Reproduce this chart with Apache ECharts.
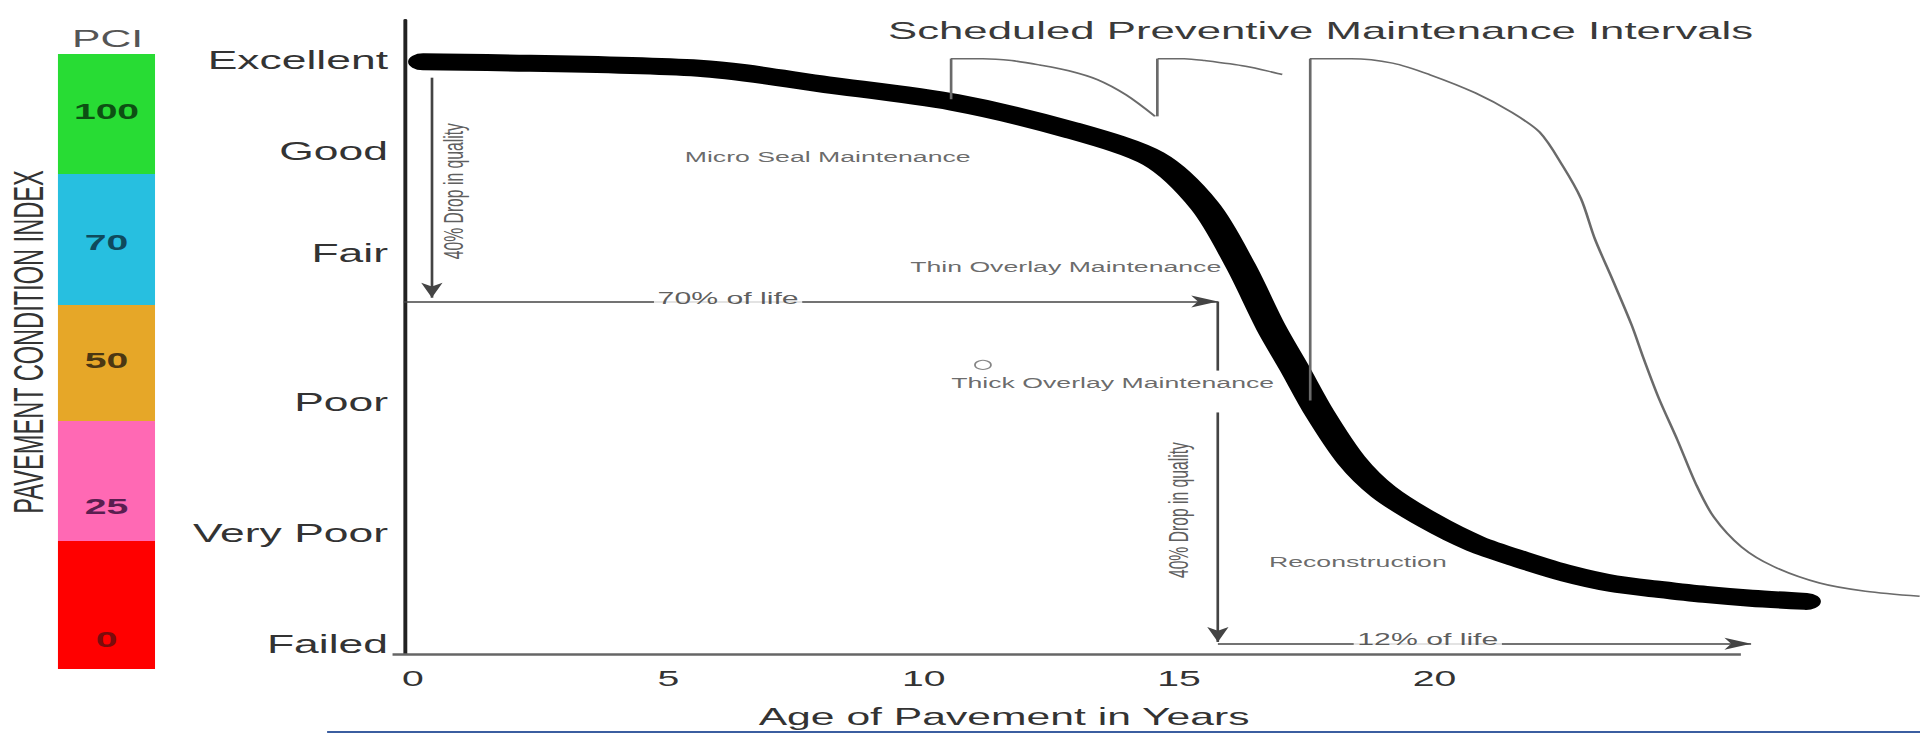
<!DOCTYPE html>
<html>
<head>
<meta charset="utf-8">
<script src="https://cdn.jsdelivr.net/npm/echarts@6/dist/echarts.min.js"></script>
<style>
  html, body { margin: 0; padding: 0; background: #fff; overflow: hidden; }
  /* the reference picture is a horizontally stretched figure: draw at 1080 wide, stretch to 1920 */
  #chart { width: 1080px; height: 734px; transform: scaleX(1.777778); transform-origin: 0 0; }
</style>
</head>
<body>
<div id="chart"></div>
<script>
// ---------- data ----------
const yLabelNames  = ['Excellent', 'Good', 'Fair', 'Poor', 'Very Poor', 'Failed'];
const yLabelValues = [93.6, 79.3, 63.2, 39.7, 19.1, 1.6];
const xTickValues  = [0, 5, 10, 15, 20];
const xAxisLineEnd = 26;

// pavement condition curve (age in years, condition)
const conditionCurve = [
  [0.2, 93.4], [5.6, 92.4], [8.1, 89.8], [10.6, 87.0], [12.9, 82.6], [14.5, 78.1],
  [15.5, 70.7], [16.2, 61.3], [16.8, 51.5], [17.25, 45.2], [17.75, 38.0], [18.37, 30.6],
  [19.0, 25.6], [19.9, 21.0], [20.8, 17.4], [21.7, 14.9], [22.6, 12.7], [23.5, 11.1],
  [24.4, 10.2], [25.3, 9.4], [26.2, 8.8], [27.27, 8.3]
];

// scheduled preventive maintenance intervals: rises (age, from, to) and decay curves
const pmRises = [[10.53, 87.5, 93.9], [14.56, 84.8, 93.9], [17.56, 40.0, 93.9]];
const pmDecay1 = [
  [10.53, 93.9], [11.16, 93.9], [11.72, 93.6], [12.27, 92.9], [12.84, 92.0],
  [13.40, 90.6], [13.96, 88.2], [14.53, 84.8]
];
const pmDecay2 = [[14.58, 93.9], [15.1, 93.9], [15.5, 93.6], [16.3, 92.7], [17.02, 91.4]];
const pmDecay3 = [
  [17.56, 93.9], [18.37, 93.9], [19.18, 93.2], [19.9, 91.4], [20.8, 88.5],
  [21.52, 85.4], [22.06, 82.3], [22.51, 77.0], [22.87, 71.8], [23.14, 65.5], [23.5, 58.8],
  [23.86, 51.9], [24.1, 46.5], [24.39, 40.4], [24.76, 33.7], [25.12, 26.8], [25.47, 21.6],
  [26.01, 16.9], [26.64, 13.8], [27.54, 11.2], [28.44, 9.9], [29.5, 9.1]
];

// annotation arrows (age, condition)
const arrowStarts = [[0.37, 90.9], [-0.18, 55.6], [15.76, 55.6], [15.76, 38.1], [15.76, 1.6]];
const arrowEnds   = [[0.37, 56.2], [15.76, 55.6], [15.76, 44.7], [15.76, 1.9], [26.2, 1.6]];
const arrowHeads  = [true, true, false, true, true];

// annotation texts
const noteTexts  = ['Micro Seal Maintenance', 'Thin Overlay Maintenance', 'Thick Overlay Maintenance',
                    'Reconstruction', '70% of life', '12% of life', '40% Drop in quality', '40% Drop in quality'];
const notePoints = [[8.12, 78.5], [12.78, 61.1], [13.7, 42.8], [18.5, 14.6], [6.17, 56.1], [19.87, 2.3],
                    [0.80, 73.0], [15.0, 22.7]];
const noteRotate = [0, 0, 0, 0, 0, 0, 90, 90];
const markerPoint = [[11.16, 45.6]];

// PCI colour scale (bottom to top)
const pciLabels      = ['0', '25', '50', '70', '100'];
const pciBandHeights = [128, 120, 116, 131, 120];
const pciColors      = ['#ff0000', '#ff69b4', '#e6a728', '#27bfe0', '#28dc34'];
const pciTextColors  = ['#7a0c0c', '#5a1e50', '#4a3713', '#0f4a5c', '#0d5013'];
const pciLabelShift  = [34, 25, -3, 3, -3];

// ---------- chart ----------
const FONT = 'Liberation Sans, Arial, Helvetica, sans-serif';
const chart = echarts.init(document.getElementById('chart'), null, { renderer: 'svg' });

const pciSeries = pciLabels.map((lab, i) => ({
  type: 'bar', xAxisIndex: 1, yAxisIndex: 1, stack: 'pci', barWidth: '100%',
  data: [pciBandHeights[i]],
  itemStyle: { color: pciColors[i] },
  label: { show: true, position: 'inside', formatter: lab, offset: [0, pciLabelShift[i]],
           fontFamily: FONT, fontSize: 22, fontWeight: 'bold', color: pciTextColors[i] },
  silent: true
}));

const thinLine = { color: '#6a6a6a', width: 1.5, type: 'solid' };
const decaySeries = [pmDecay1, pmDecay2, pmDecay3].map((d, i) => ({
  name: 'Preventive maintenance ' + (i + 1), type: 'line', data: d, clip: false, symbol: 'none',
  smooth: 0.3, lineStyle: thinLine, silent: true, z: 2
}));

const option = {
  animation: false,
  backgroundColor: '#fff',
  textStyle: { fontFamily: FONT },
  title: [
    { text: 'Scheduled Preventive Maintenance Intervals', left: 499.5, top: 18, padding: 0,
      textStyle: { fontFamily: FONT, fontSize: 24.6, fontWeight: 'normal', color: '#3a3a3a' } },
    { text: 'PCI', left: 40.5, top: 27, padding: 0,
      textStyle: { fontFamily: FONT, fontSize: 24, fontWeight: 'normal', color: '#555' } }
  ],
  graphic: [
    { type: 'text', x: 15.9, y: 342, rotation: Math.PI / 2, silent: true,
      style: { text: 'PAVEMENT CONDITION INDEX', fontFamily: FONT, fontSize: 23.6, fill: '#333',
               align: 'center', verticalAlign: 'middle', textAlign: 'center', textVerticalAlign: 'middle' } },
    { type: 'rect', silent: true, shape: { x: 184, y: 731, width: 900, height: 2 },
      style: { fill: '#3b5ea0' } }
  ],
  grid: [
    { left: 220.8, right: 0.2, top: 20, bottom: 76 },
    { left: 32.6, width: 54.6, top: 54, height: 615 }
  ],
  xAxis: [
    { type: 'value', min: -0.4, max: 29.5,
      axisLine: { show: false },
      axisTick: { show: false }, splitLine: { show: false },
      axisLabel: { customValues: xTickValues, fontFamily: FONT, fontSize: 22, color: '#333', margin: 13 },
      name: 'Age of Pavement in Years', nameLocation: 'middle', nameGap: 51,
      nameTextStyle: { fontFamily: FONT, fontSize: 24, color: '#333', padding: [0, 171, 0, 0] } },
    { type: 'category', gridIndex: 1, data: ['PCI'], show: false }
  ],
  yAxis: [
    { type: 'value', min: 0, max: 100, position: 'left', offset: -6.45,
      axisLine: { show: true, onZero: false, lineStyle: { color: '#222', width: 2.2 } },
      axisTick: { show: false }, splitLine: { show: false },
      axisLabel: { customValues: yLabelValues, margin: 9, fontFamily: FONT, fontSize: 25, color: '#333',
        formatter: function (v) {
          let best = 0;
          yLabelValues.forEach((y, i) => { if (Math.abs(y - v) < Math.abs(yLabelValues[best] - v)) best = i; });
          return yLabelNames[best];
        } } },
    { type: 'value', gridIndex: 1, min: 0, max: pciBandHeights.reduce((a, b) => a + b, 0), show: false }
  ],
  series: [
    { name: 'Age axis', type: 'line', data: [], silent: true, z: 1,
      markLine: { silent: true, symbol: 'none', animation: false, label: { show: false },
        lineStyle: { color: '#666', width: 2.5, type: 'solid' },
        data: [[{ coord: [-0.4, 0] }, { coord: [xAxisLineEnd, 0] }]] } },
    { name: 'Maintenance rises', type: 'line', data: [], silent: true, z: 2,
      markLine: { silent: true, symbol: 'none', animation: false, label: { show: false },
        lineStyle: thinLine,
        data: pmRises.map(r => [{ coord: [r[0], r[1]] }, { coord: [r[0], r[2]] }]) } },
    ...decaySeries,
    { name: 'Arrows', type: 'line', data: [], silent: true, z: 3,
      markLine: {
        silent: true, symbolSize: [9, 15], animation: false,
        lineStyle: { color: '#444', width: 1.5, type: 'solid' },
        label: { show: false },
        data: arrowStarts.map((s, i) => [
          { coord: s, symbol: 'none' },
          { coord: arrowEnds[i], symbol: arrowHeads[i] ? 'arrow' : 'none' }
        ])
      } },
    { name: 'Pavement condition', type: 'line', data: conditionCurve, clip: false, symbol: 'none',
      smooth: 0.3, lineStyle: { color: '#000', width: 17, cap: 'round', join: 'round' }, silent: true, z: 4 },
    { name: 'Marker', type: 'scatter', data: markerPoint, symbol: 'circle', symbolSize: 9, silent: true, z: 5,
      itemStyle: { color: '#fff', borderColor: '#666', borderWidth: 1 } },
    { name: 'Notes', type: 'scatter', symbolSize: 0, silent: true, z: 6,
      itemStyle: { color: 'transparent' },
      data: noteTexts.map((t, i) => {
        const onLine = t.indexOf('of life') >= 0;
        return {
          name: t, value: notePoints[i],
          label: { rotate: noteRotate[i], fontSize: onLine ? 17 : (noteRotate[i] ? 15.7 : 15),
                   color: noteRotate[i] ? '#333' : (onLine ? '#333' : '#444'),
                   backgroundColor: onLine ? '#fff' : 'transparent', padding: onLine ? [0, 2] : 0 }
        };
      }),
      label: { show: true, position: 'inside', formatter: '{b}', fontFamily: FONT } },
    ...pciSeries
  ]
};
chart.setOption(option);
</script>
</body>
</html>
